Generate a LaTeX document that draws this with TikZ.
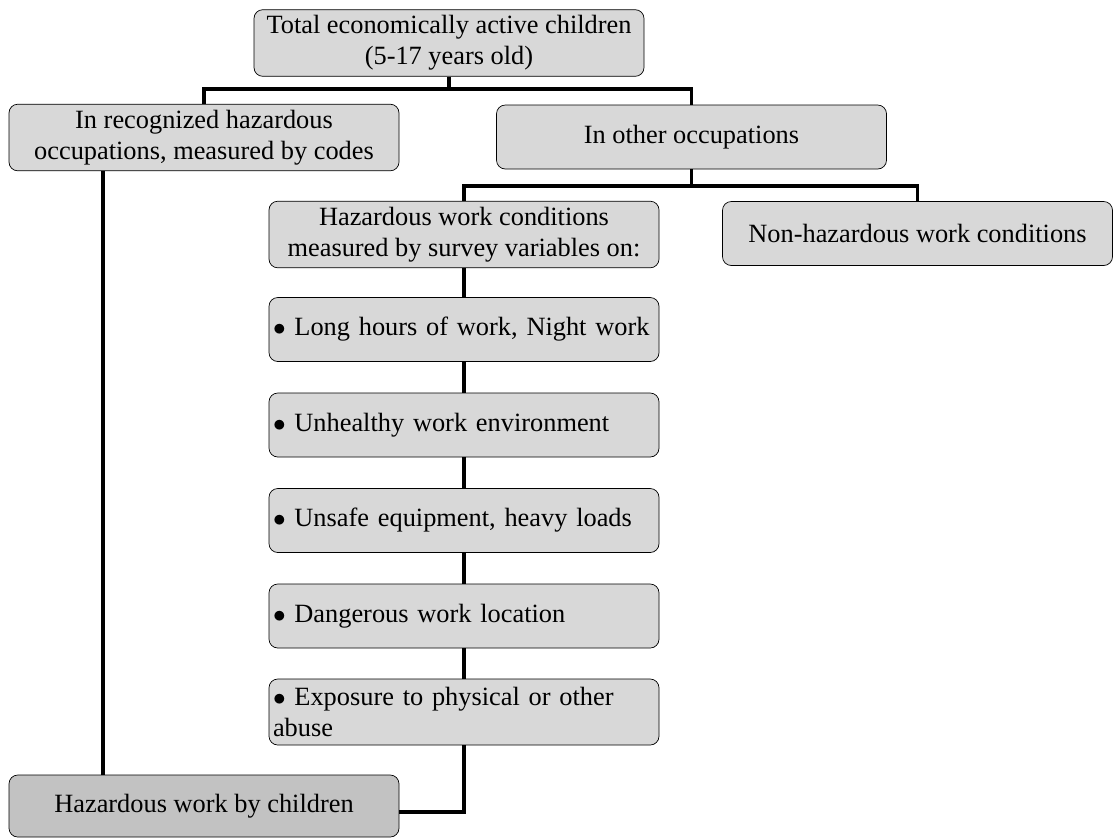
\documentclass[tikz,border=0pt]{standalone}
\usepackage{fontspec}
\setmainfont{Liberation Serif}
\usetikzlibrary{calc, positioning}
\definecolor{boxgray}{HTML}{D8D8D8}
\definecolor{resultgray}{HTML}{C2C2C2}

\begin{document}
\begin{tikzpicture}[
    box/.style={draw, rounded corners=5pt, fill=#1, minimum width=7.8cm, minimum height=1.28cm, align=center, font=\fontsize{15}{17.6}\selectfont},
    item/.style={box=boxgray, align=left, text width=7.64cm, inner xsep=0.08cm},
    link/.style={line width=2.2pt}
]
\useasboundingbox (0,0) rectangle (22.26,-16.76);

\node[box=boxgray] (total) at (8.98, -0.86) {Total economically active children\\(5-17 years old)};
\node[box=boxgray] (recog) at (4.08, -2.75) {In recognized hazardous\\occupations, measured by codes};
\node[box=boxgray] (other) at (13.83, -2.74) {In other occupations};
\node[box=boxgray] (hazcond) at (9.28, -4.69) {Hazardous work conditions\\measured by survey variables on:};
\node[box=boxgray] (nonhaz) at (18.35, -4.67) {Non-hazardous work conditions};

\node[item] (hours) at (9.28, -6.59) {$\bullet$ Long hours of work, Night work};
\node[item] (health) at (9.28, -8.50) {$\bullet$ Unhealthy work environment};
\node[item] (equip) at (9.28, -10.41) {$\bullet$ Unsafe equipment, heavy loads};
\node[item] (place) at (9.28, -12.32) {$\bullet$ Dangerous work location};
\node[item, minimum height=1.32cm] (abuse) at (9.28, -14.24) {$\bullet$ Exposure to physical or other\\abuse};

\node[box=resultgray, minimum height=1.24cm] (hazkids) at (4.08, -16.12) {Hazardous work by children};

% bus lines
\coordinate (bus1) at (0, -1.78);
\coordinate (bus2) at (0, -3.72);

\draw[link] (total.south) -- (total.south |- bus1);
\draw[link] (recog.north) |- (other.north |- bus1) -- (other.north);
\draw[link] (other.south) -- (other.south |- bus2);
\draw[link] (hazcond.north) |- (nonhaz.north |- bus2) -- (nonhaz.north);

\foreach \a/\b in {hazcond/hours, hours/health, health/equip, equip/place, place/abuse}
    \draw[link] (\a.south) -- (\b.north);

\draw[link] ([xshift=-2.02cm]recog.south) -- ([xshift=-2.02cm]hazkids.north);
\draw[link] (abuse.south) |- ([yshift=-0.12cm]hazkids.east);
\end{tikzpicture}
\end{document}
